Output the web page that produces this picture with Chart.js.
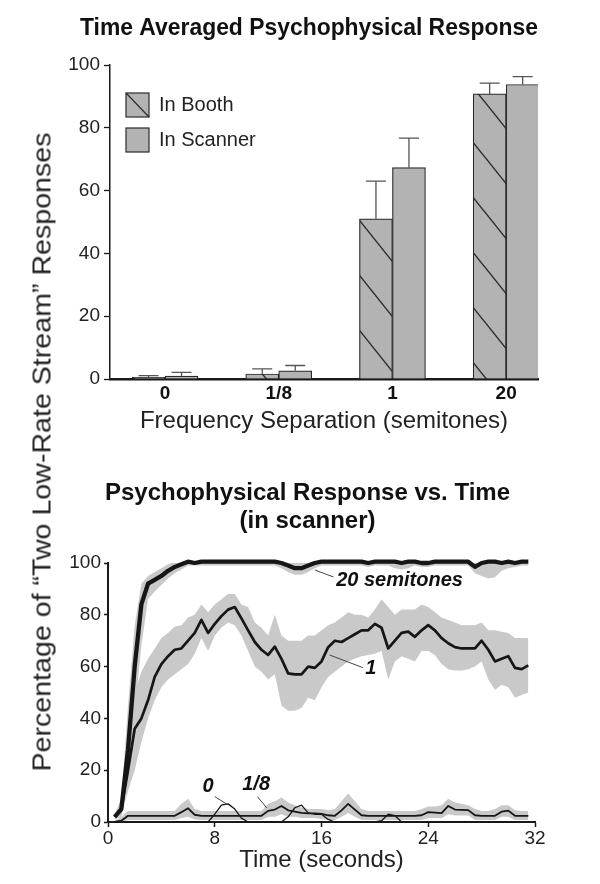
<!DOCTYPE html>
<html>
<head>
<meta charset="utf-8">
<script src="https://cdn.jsdelivr.net/npm/chart.js@4.4.1/dist/chart.umd.min.js"></script>
<style>
  html, body { margin: 0; padding: 0; background: #fff; }
  #page { position: relative; width: 600px; height: 884px; overflow: hidden; }
  #topWrap { position: absolute; left: 0; top: 0; }
  #botWrap { position: absolute; left: 0; top: 445px; }
  #yTitle {
    position: absolute; left: 42px; top: 452px;
    transform: translate(-50%, -50%) rotate(-90deg) scaleX(1.1);
    white-space: nowrap; color: #222;
    font: 26px "Liberation Sans", Arial, Helvetica, sans-serif;
  }
</style>
</head>
<body>
<div id="page">
  <div id="topWrap"><canvas id="topChart" width="600" height="445"></canvas></div>
  <div id="botWrap"><canvas id="botChart" width="600" height="439"></canvas></div>
  <div id="yTitle">Percentage of “Two Low-Rate Stream” Responses</div>
</div>
<script>
// ---- top panel: time averaged response ----
const freqLabels = ['0', '1/8', '1', '20'];
const freqPos = [0, 1, 2, 3];
const boothMean = [0.5, 1.6, 51, 90.8];
const boothTop = [1.1, 3.2, 63, 94.2];      // mean + error
const scannerMean = [0.9, 2.6, 67.3, 93.8];
const scannerTop = [2.1, 4.3, 76.7, 96.3];

// ---- bottom panel: response vs. time (in scanner) ----
const times = [
  0.5, 1, 1.5, 2, 2.5, 3, 3.5, 4, 4.5, 5,
  5.5, 6, 6.5, 7, 7.5, 8, 8.5, 9, 9.5, 10,
  10.5, 11, 11.5, 12, 12.5, 13, 13.5, 14, 14.5, 15,
  15.5, 16, 16.5, 17, 17.5, 18, 18.5, 19, 19.5, 20,
  20.5, 21, 21.5, 22, 22.5, 23, 23.5, 24, 24.5, 25,
  25.5, 26, 26.5, 27, 27.5, 28, 28.5, 29, 29.5, 30,
  30.5, 31, 31.5
];
const semi20 = [
  2, 5, 28, 60, 84, 92, 93.5, 95, 97, 98.5,
  99.5, 100.5, 100, 100.5, 100.5, 100.5, 100.5, 100.5, 100.5, 100.5,
  100.5, 100.5, 100.5, 100.5, 100.5, 100, 99, 98, 98, 99,
  100, 100.5, 100.5, 100.5, 100.5, 100.5, 100.5, 100.5, 100, 100.5,
  100.5, 100.5, 100.5, 100, 100.5, 100.5, 100, 100, 100.5, 100.5,
  100.5, 100.5, 100.5, 100.5, 98.5, 100, 100.5, 100.5, 100, 100.5,
  100, 100.5, 100.5
];
const semi20Hi = [
  3, 9, 45, 76, 92, 95, 96.5, 98, 99.5, 100.5,
  101.5, 102, 102, 102, 102, 102, 102, 102, 102, 102,
  102, 102, 102, 102, 102, 101.5, 101, 100, 100, 101,
  101.5, 102, 102, 102, 102, 102, 102, 102, 102, 102,
  102, 102, 103.5, 104, 103.5, 102, 102, 102, 102, 102,
  102, 102, 102, 102, 102.5, 104, 104, 103.5, 103, 103,
  103, 103, 102.5
];
const semi20Lo = [
  1, 2, 14, 42, 68, 86, 89, 91.5, 94, 96,
  97.5, 99, 99, 99, 99, 99, 99, 99, 99, 99,
  99, 99, 99, 99, 99, 98, 96.5, 95.5, 95.5, 96.5,
  98, 99, 99, 99, 99, 99, 99, 99, 98.5, 99,
  99, 99, 98, 97.5, 98, 99, 98.5, 98.5, 99, 99,
  99, 99, 99, 99, 96, 95, 94, 94.5, 97, 98,
  98.5, 99, 99
];
const semi1 = [
  2, 5, 20, 36, 40, 47, 56, 61, 64, 66.5,
  67, 70, 73, 78, 73, 76.5, 79.5, 82, 83, 78.6,
  74, 69.5, 66.5, 64.5, 67.7, 63, 57.4, 57, 57, 60,
  59.5, 62, 67.5, 70, 69.5, 71, 72.5, 74, 74, 76.5,
  75, 67, 70, 73, 73.5, 71.5, 74, 76, 74, 71,
  69, 67.5, 67, 67, 67, 70, 66.5, 62, 63, 64,
  59.5, 59, 60.5
];
const semi1Hi = [
  3, 8, 32, 50, 58, 63, 67, 71, 73, 75.5,
  76, 79, 80, 84, 81, 84, 86, 88, 88, 84,
  83, 77, 75, 72, 80, 72, 70, 70, 70, 72,
  72, 74, 76, 77, 79, 81, 80, 80, 79, 82,
  86, 83, 80, 82, 82, 82, 84, 83, 81, 79,
  78, 77, 76, 76, 76, 77, 74, 74, 73.5, 73,
  71, 71, 71
];
const semi1Lo = [
  1, 3, 12, 20, 31, 40, 47, 52, 55, 57,
  59, 61, 65, 71, 66, 72, 75, 77, 76, 72,
  66, 60, 58, 55, 57, 45, 43, 43, 44, 48,
  47, 52, 56, 58, 60, 62, 63, 64, 64.5, 65,
  66, 55, 62, 64, 63, 62, 66, 66, 64.5, 61,
  59, 58.5, 58.5, 59, 60, 62, 55, 51, 53, 52,
  48, 49, 50
];
const semi18 = [
  0, 0.5, 2.4, 2.4, 2.4, 2.4, 2.4, 2.4, 2.4, 2.4,
  3.8, 5.3, 2.8, 2.4, 2.4, 2.4, 2.4, 2.4, 2.4, 2.4,
  2.4, 2.4, 2.4, 4.3, 4.8, 6.2, 4.5, 4, 3.5, 3.3,
  3.3, 3.1, 2.6, 2.4, 4.5, 7, 4.8, 2.6, 2.4, 2.4,
  2.4, 2.4, 2.4, 2.4, 2.4, 2.4, 2.6, 3.8, 3.6, 3.4,
  6.2, 4.8, 4.7, 4.6, 2.6, 2.4, 2.4, 2.4, 4, 4.4,
  2.4, 2.4, 2.4
];
const semi18Hi = [
  0.5, 2, 4.2, 4.2, 4.2, 4.2, 4.2, 4.2, 4.2, 4.2,
  7, 9, 5, 4.2, 4.2, 4.2, 4.2, 4.2, 4.2, 4.2,
  4.2, 4.2, 4.2, 7, 8, 9.5, 7.5, 6.5, 5.5, 5,
  5, 5, 4.5, 5, 8, 11, 8, 5, 4.2, 4.2,
  4.2, 4.2, 4.2, 4.2, 4.2, 4.2, 5, 6, 6, 6.5,
  9, 7.5, 7, 6.5, 5, 4.2, 4.2, 5, 6.5, 6.5,
  4.5, 4.2, 4.2
];
const semi18Lo = [
  0, 0, 0.8, 0.8, 0.8, 0.8, 0.8, 0.8, 0.8, 0.8,
  1.5, 2, 1, 0.8, 0.8, 0.8, 0.8, 0.8, 0.8, 0.8,
  0.8, 0.8, 0.8, 2, 2, 3, 2, 2, 1.5, 1.5,
  1.5, 1.2, 0.8, 0.8, 2, 3.5, 2, 0.8, 0.8, 0.8,
  0.8, 0.8, 0.8, 0.8, 0.8, 0.8, 0.8, 1.5, 1.5, 1.5,
  3, 2.5, 2.5, 2.5, 0.8, 0.8, 0.8, 0.8, 2, 2,
  0.8, 0.8, 0.8
];
const semi0 = [
  0, 0, 0, 0, 0, 0, 0, 0, 0, 0,
  0, 0, 0, 0, 0, 3, 6.5, 7, 5, 1.5,
  0, 0, 0, 0, 0, 0, 2, 5.5, 6.5, 3.5,
  3, 3, 1, 0, 0, 0, 0, 0, 0, 0,
  0.5, 3, 2.5, 0, 0, 0, 0, 0, 0, 0,
  0, 0, 0, 0, 0, 0, 0, 0, 0, 0,
  0, 0, 0
];

// curve labels, in data units: text anchor plus a leader line
const notes = [
  { text: '20 semitones', x: 17.1, y: 93.4, align: 'left', from: [15.5, 97.3], to: [16.9, 94.6] },
  { text: '1', x: 19.7, y: 59.3, align: 'center', from: [16.6, 64.5], to: [19.1, 59.6] },
  { text: '0', x: 7.5, y: 13.6, align: 'center', from: [8.0, 9.8], to: [9.0, 6.6] },
  { text: '1/8', x: 11.1, y: 14.3, align: 'center', from: [11.2, 9.8], to: [11.9, 5.4] }
];

const FONT = '"Liberation Sans", Arial, Helvetica, sans-serif';
Chart.defaults.font.family = FONT;
Chart.defaults.color = '#222';

const barGray = '#b3b3b3';
const edge = '#2a2a2a';
const bandGray = '#c9c9c9';

function makeHatch(ctx) {
  const w = 44, h = 55;
  const c = document.createElement('canvas');
  c.width = w; c.height = h;
  const g = c.getContext('2d');
  g.fillStyle = barGray;
  g.fillRect(0, 0, w, h);
  g.strokeStyle = edge;
  g.lineWidth = 1.4;
  [-w, 0, w].forEach(dx => {
    g.beginPath();
    g.moveTo(dx - 8, -10);
    g.lineTo(dx + w + 8, h + 10);
    g.stroke();
  });
  const p = ctx.createPattern(c, 'repeat');
  p.setTransform(new DOMMatrix([1, 0, 0, 1, 0, 46]));
  return p;
}

// let the y tick labels spill left of the narrow y-axis box without being clipped
const widenY = {
  id: 'widenY',
  afterLayout(chart) { chart.scales.y.left = 0; }
};

const topCtx = document.getElementById('topChart').getContext('2d');
const hatch = makeHatch(topCtx);

const errorBars = {
  id: 'errorBars',
  afterDatasetsDraw(chart) {
    const { ctx } = chart;
    const y = chart.scales.y;
    ctx.save();
    ctx.strokeStyle = '#555';
    ctx.lineWidth = 1.3;
    [boothTop, scannerTop].forEach((tops, di) => {
      chart.getDatasetMeta(di).data.forEach((bar, i) => {
        const yt = y.getPixelForValue(tops[i]);
        ctx.beginPath();
        ctx.moveTo(bar.x, bar.y);
        ctx.lineTo(bar.x, yt);
        ctx.moveTo(bar.x - 10, yt);
        ctx.lineTo(bar.x + 10, yt);
        ctx.stroke();
      });
    });
    ctx.restore();
  }
};

const boxLegend = {
  id: 'boxLegend',
  afterDraw(chart) {
    const { ctx, chartArea: a } = chart;
    const items = [
      { label: 'In Booth', hatched: true },
      { label: 'In Scanner', hatched: false }
    ];
    ctx.save();
    items.forEach((it, i) => {
      const bx = a.left + 16, by = a.top + 28 + i * 35, bw = 23, bh = 24;
      ctx.fillStyle = barGray;
      ctx.fillRect(bx, by, bw, bh);
      ctx.strokeStyle = edge;
      ctx.lineWidth = 1.2;
      ctx.strokeRect(bx, by, bw, bh);
      if (it.hatched) {
        ctx.beginPath();
        ctx.moveTo(bx, by);
        ctx.lineTo(bx + bw, by + bh);
        ctx.stroke();
      }
      ctx.fillStyle = '#222';
      ctx.font = '20px ' + FONT;
      ctx.textBaseline = 'middle';
      ctx.textAlign = 'left';
      ctx.fillText(it.label, bx + 33, by + bh / 2);
    });
    ctx.restore();
  }
};

new Chart(topCtx, {
  type: 'bar',
  data: {
    datasets: [
      {
        label: 'In Booth',
        data: freqPos.map((x, i) => ({ x, y: boothMean[i] })),
        backgroundColor: hatch,
        borderColor: edge,
        borderWidth: 1.2,
        barThickness: 33
      },
      {
        label: 'In Scanner',
        data: freqPos.map((x, i) => ({ x, y: scannerMean[i] })),
        backgroundColor: barGray,
        borderColor: edge,
        borderWidth: 1.2,
        barThickness: 33
      }
    ]
  },
  options: {
    responsive: false,
    animation: false,
    layout: { padding: { left: 80, right: 62, top: 0, bottom: 0 } },
    plugins: {
      legend: { display: false },
      tooltip: { enabled: false },
      title: {
        display: true,
        text: 'Time Averaged Psychophysical Response',
        color: '#111',
        font: { size: 24, weight: 'bold' },
        padding: { top: 13.6, bottom: 22.6 }
      }
    },
    scales: {
      x: {
        type: 'linear',
        min: -0.484,
        max: 3.28,
        offset: false,
        grid: { display: false, drawTicks: false },
        border: { display: true, color: '#1a1a1a', width: 2.5 },
        afterBuildTicks: s => { s.ticks = freqPos.map(v => ({ value: v })); },
        afterFit: s => { s.height = 66; },
        ticks: {
          callback: v => freqLabels[v],
          color: '#111',
          font: { size: 19, weight: 'bold' },
          padding: 3,
          autoSkip: false,
          maxRotation: 0
        },
        title: {
          display: true,
          text: 'Frequency Separation (semitones)',
          color: '#222',
          font: { size: 24 },
          padding: { top: 6, bottom: 9 }
        }
      },
      y: {
        min: 0,
        max: 100,
        ticks: { stepSize: 20, color: '#222', font: { size: 19 }, padding: 4 },
        grid: { drawOnChartArea: false, tickLength: 6, color: '#1a1a1a', tickWidth: 1.3 },
        border: { color: '#1a1a1a', width: 1.5 },
        afterFit: s => { s.width = 30; }
      }
    }
  },
  plugins: [widenY, errorBars, boxLegend]
});

// ---- bottom chart ----
const pts = vals => times.map((t, i) => ({ x: t, y: vals[i] }));
const band = (vals, fill) => ({
  data: pts(vals),
  borderWidth: 0,
  backgroundColor: bandGray,
  fill: fill,
  pointRadius: 0,
  clip: false,
  order: 1
});
const curve = (vals, width) => ({
  data: pts(vals),
  borderColor: '#161616',
  borderWidth: width,
  borderJoinStyle: 'round',
  fill: false,
  pointRadius: 0,
  clip: false,
  order: 0
});

const notesPlugin = {
  id: 'notes',
  afterDatasetsDraw(chart) {
    const { ctx } = chart;
    const x = chart.scales.x, y = chart.scales.y;
    ctx.save();
    notes.forEach(n => {
      ctx.strokeStyle = '#444';
      ctx.lineWidth = 1;
      ctx.beginPath();
      ctx.moveTo(x.getPixelForValue(n.from[0]), y.getPixelForValue(n.from[1]));
      ctx.lineTo(x.getPixelForValue(n.to[0]), y.getPixelForValue(n.to[1]));
      ctx.stroke();
      ctx.fillStyle = '#111';
      ctx.font = 'italic bold 20px ' + FONT;
      ctx.textAlign = n.align;
      ctx.textBaseline = 'middle';
      ctx.fillText(n.text, x.getPixelForValue(n.x), y.getPixelForValue(n.y));
    });
    ctx.restore();
  }
};

new Chart(document.getElementById('botChart'), {
  type: 'line',
  data: {
    datasets: [
      band(semi20Hi, '+1'), band(semi20Lo, false),
      band(semi1Hi, '+1'), band(semi1Lo, false),
      band(semi18Hi, '+1'), band(semi18Lo, false),
      curve(semi20, 4.3),
      curve(semi1, 2.7),
      curve(semi18, 1.8),
      curve(semi0, 1.3)
    ]
  },
  options: {
    responsive: false,
    animation: false,
    elements: { line: { tension: 0 } },
    layout: { padding: { left: 80, right: 65, top: 0, bottom: 0 } },
    plugins: {
      legend: { display: false },
      tooltip: { enabled: false },
      title: {
        display: true,
        text: ['Psychophysical Response vs. Time', '(in scanner)'],
        color: '#111',
        font: { size: 24, weight: 'bold', lineHeight: 1.1667 },
        padding: { top: 34, bottom: 28 }
      }
    },
    scales: {
      x: {
        type: 'linear',
        min: 0,
        max: 32,
        ticks: { stepSize: 8, color: '#222', font: { size: 19 }, padding: 0, maxRotation: 0 },
        grid: { drawOnChartArea: false, tickLength: 5, color: '#1a1a1a', tickWidth: 1.5 },
        border: { color: '#1a1a1a', width: 2 },
        afterFit: s => { s.height = 62; },
        title: {
          display: true,
          text: 'Time (seconds)',
          color: '#222',
          font: { size: 24 },
          padding: { top: 4, bottom: 9.6 }
        }
      },
      y: {
        min: 0,
        max: 100,
        ticks: { stepSize: 20, color: '#222', font: { size: 19 }, padding: 3 },
        grid: { drawOnChartArea: false, tickLength: 4, color: '#1a1a1a', tickWidth: 1.5 },
        border: { color: '#1a1a1a', width: 2 },
        afterFit: s => { s.width = 28; }
      }
    }
  },
  plugins: [widenY, notesPlugin]
});
</script>
</body>
</html>
